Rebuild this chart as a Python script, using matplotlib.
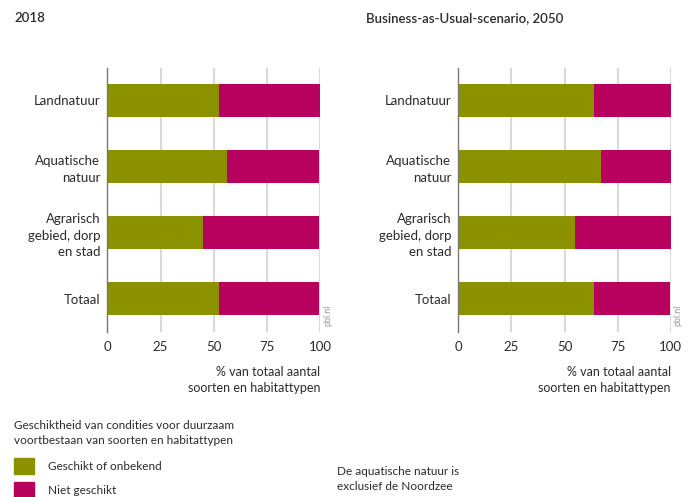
import numpy as np
import matplotlib.pyplot as plt

plt.rcParams['font.family'] = ['Lato', 'DejaVu Sans']

# Data
categories = ['Landnatuur', 'Aquatische\nnatuur', 'Agrarisch\ngebied, dorp\nen stad', 'Totaal']
geschikt_2018 = [52.5, 56.0, 44.8, 52.5]
niet_2018 = [47.5, 43.6, 54.8, 47.1]
geschikt_2050 = [63.9, 67.3, 54.8, 63.9]
niet_2050 = [36.1, 32.7, 45.2, 35.8]
ticks = [0, 25, 50, 75, 100]
titles = ['2018', 'Business-as-Usual-scenario, 2050']

green = '#8c9100'
red = '#b8005e'
text_col = '#2b2b2b'

fig = plt.figure(figsize=(6.89, 4.97), dpi=100)

W, H = 689, 497
def ax_rect(x0, x1, y0, y1):
    return [x0 / W, 1 - y1 / H, (x1 - x0) / W, (y1 - y0) / H]

panels = [
    (ax_rect(107.3, 320.3, 68, 331.7), geschikt_2018, niet_2018),
    (ax_rect(458.3, 670.7, 68, 331.7), geschikt_2050, niet_2050),
]

y = np.arange(len(categories))
for rect, g, n in panels:
    ax = fig.add_axes(rect)
    ax.barh(y, g, height=0.5, color=green, zorder=2)
    ax.barh(y, n, left=g, height=0.5, color=red, zorder=2)
    ax.set_xlim(0, 100)
    ax.set_ylim(3.5, -0.49)
    ax.set_xticks(ticks)
    ax.set_xticklabels([str(t) for t in ticks])
    ax.set_yticks(y)
    ax.set_yticklabels(categories, ha='right', multialignment='right')
    for lab in ax.get_yticklabels():
        lab.set_linespacing(1.45)
    ax.tick_params(length=0, labelsize=9.5, colors=text_col)
    ax.tick_params(axis='x', pad=7)
    ax.tick_params(axis='y', pad=5)
    for s in ['top', 'right', 'bottom']:
        ax.spines[s].set_visible(False)
    ax.spines['left'].set_color('#777777')
    ax.spines['left'].set_linewidth(1.0)
    for t in ticks[1:]:
        ax.axvline(t, color='#d9d9d9', lw=1.5, zorder=1)
    ax.text(1.0, -0.13, '% van totaal aantal\nsoorten en habitattypen',
            transform=ax.transAxes, ha='right', va='top', fontsize=9,
            color=text_col, linespacing=1.45)
    ax.text(1.035, 0.02, 'pbl.nl', transform=ax.transAxes, rotation=90,
            ha='center', va='bottom', fontsize=6.5, color='#999999')

fig.text(14 / W, 1 - 18 / H, titles[0], fontsize=9.5, color=text_col,
         va='center', weight='semibold')
fig.text(366 / W, 1 - 18 / H, titles[1], fontsize=9.5, color=text_col,
         va='center', weight='semibold')

# legend
fig.text(14 / W, 1 - 433 / H,
         'Geschiktheid van condities voor duurzaam\nvoortbestaan van soorten en habitattypen',
         fontsize=8.5, color=text_col, va='center', linespacing=1.5)
leg_labels = ['Geschikt of onbekend', 'Niet geschikt']
for i, (lab, c) in enumerate(zip(leg_labels, [green, red])):
    yc = 466 + i * 24
    fig.patches.append(plt.Rectangle((14 / W, 1 - (yc + 8) / H), 20 / W, 16 / H,
                                     transform=fig.transFigure, color=c))
    fig.text(48 / W, 1 - yc / H, lab, fontsize=8.5, color=text_col, va='center')

fig.text(337 / W, 1 - 479 / H, 'De aquatische natuur is\nexclusief de Noordzee',
         fontsize=8.5, color=text_col, va='center', linespacing=1.5)

fig.savefig('out.png', dpi=100)
